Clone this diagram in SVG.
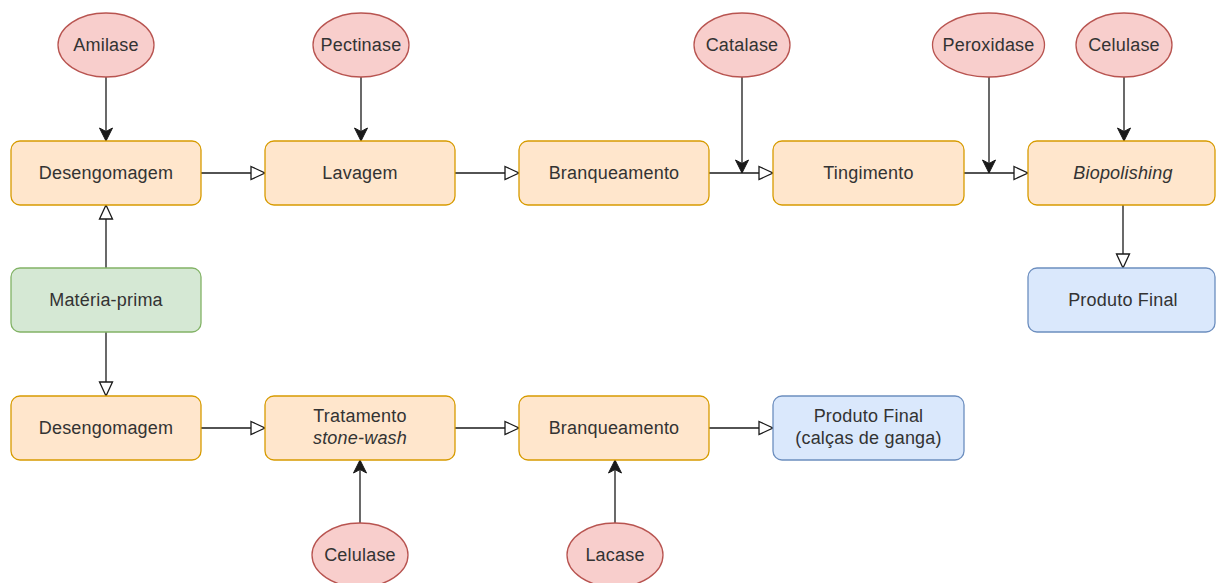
<svg xmlns="http://www.w3.org/2000/svg" width="1216" height="583" viewBox="0 0 1216 583">
<style>
.box{stroke-width:1.3}
.proc{fill:#ffe6cc;stroke:#d79b00}
.raw{fill:#d5e8d4;stroke:#82b366}
.fin{fill:#dae8fc;stroke:#6c8ebf}
.enz{fill:#f8cecc;stroke:#b85450;stroke-width:1.3}
text{font-family:"Liberation Sans",Arial,sans-serif;font-size:18px;letter-spacing:0.2px;fill:#333;text-anchor:middle}
.it{font-style:italic}
.c{fill:none;stroke:#1a1a1a;stroke-width:1.3}
.o{marker-end:url(#open)}
.f{marker-end:url(#fill)}
</style>
<defs>
<marker id="open" markerUnits="userSpaceOnUse" markerWidth="18" markerHeight="16" refX="15" refY="7" orient="auto" overflow="visible">
<path d="M1,0.5 L15,7 L1,13.5 Z" fill="#fff" stroke="#1a1a1a" stroke-width="1.3"/>
</marker>
<marker id="fill" markerUnits="userSpaceOnUse" markerWidth="16" markerHeight="16" refX="13" refY="7" orient="auto" overflow="visible">
<path d="M0,0.5 L13,7 L0,13.5 L3.5,7 Z" fill="#1a1a1a" stroke="#1a1a1a" stroke-width="1"/>
</marker>
</defs>
<g id="connectors">
<path class="c o" d="M201,173 H265"/>
<path class="c o" d="M455,173 H519"/>
<path class="c o" d="M709,173 H773"/>
<path class="c o" d="M964,173 H1028"/>
<path class="c o" d="M1123,205 V268"/>
<path class="c o" d="M106,268 V205"/>
<path class="c o" d="M106,332 V396"/>
<path class="c o" d="M201,428 H265"/>
<path class="c o" d="M455,428 H519"/>
<path class="c o" d="M709,428 H773"/>
<path class="c f" d="M106,77 V141"/>
<path class="c f" d="M361,77 V141"/>
<path class="c f" d="M742,77 V173"/>
<path class="c f" d="M989,77 V173"/>
<path class="c f" d="M1124,77 V141"/>
<path class="c f" d="M360,523 V460"/>
<path class="c f" d="M615,523 V460"/>
</g>
<g id="amilase"><ellipse class="enz" cx="106" cy="45" rx="48" ry="32"/><text x="106" y="51">Amilase</text></g>
<g id="pectinase"><ellipse class="enz" cx="361" cy="45" rx="48" ry="32"/><text x="361" y="51">Pectinase</text></g>
<g id="catalase"><ellipse class="enz" cx="742" cy="45" rx="48" ry="32"/><text x="742" y="51">Catalase</text></g>
<g id="peroxidase"><ellipse class="enz" cx="988.5" cy="45" rx="56" ry="32"/><text x="988.5" y="51">Peroxidase</text></g>
<g id="celulase1"><ellipse class="enz" cx="1124" cy="45" rx="48" ry="32"/><text x="1124" y="51">Celulase</text></g>
<g id="desengomagem1"><rect class="box proc" x="11" y="141" width="190" height="64" rx="9"/><text x="106" y="179">Desengomagem</text></g>
<g id="lavagem"><rect class="box proc" x="265" y="141" width="190" height="64" rx="9"/><text x="360" y="179">Lavagem</text></g>
<g id="branqueamento1"><rect class="box proc" x="519" y="141" width="190" height="64" rx="9"/><text x="614" y="179">Branqueamento</text></g>
<g id="tingimento"><rect class="box proc" x="773" y="141" width="191" height="64" rx="9"/><text x="868.5" y="179">Tingimento</text></g>
<g id="biopolishing"><rect class="box proc" x="1028" y="141" width="187" height="64" rx="9"/><text class="it" x="1123" y="179">Biopolishing</text></g>
<g id="produtofinal1"><rect class="box fin" x="1028" y="268" width="187" height="64" rx="9"/><text x="1123" y="306">Produto Final</text></g>
<g id="materiaprima"><rect class="box raw" x="11" y="268" width="190" height="64" rx="9"/><text x="106" y="306">Matéria-prima</text></g>
<g id="desengomagem2"><rect class="box proc" x="11" y="396" width="190" height="64" rx="9"/><text x="106" y="434">Desengomagem</text></g>
<g id="tratamento"><rect class="box proc" x="265" y="396" width="190" height="64" rx="9"/><text x="360" y="422">Tratamento</text><text class="it" x="360" y="444">stone-wash</text></g>
<g id="branqueamento2"><rect class="box proc" x="519" y="396" width="190" height="64" rx="9"/><text x="614" y="434">Branqueamento</text></g>
<g id="produtofinal2"><rect class="box fin" x="773" y="396" width="191" height="64" rx="9"/><text x="868.5" y="422">Produto Final</text><text x="868.5" y="444">(calças de ganga)</text></g>
<g id="celulase2"><ellipse class="enz" cx="360" cy="555" rx="48" ry="32"/><text x="360" y="561">Celulase</text></g>
<g id="lacase"><ellipse class="enz" cx="615" cy="555" rx="48" ry="32"/><text x="615" y="561">Lacase</text></g>
</svg>
